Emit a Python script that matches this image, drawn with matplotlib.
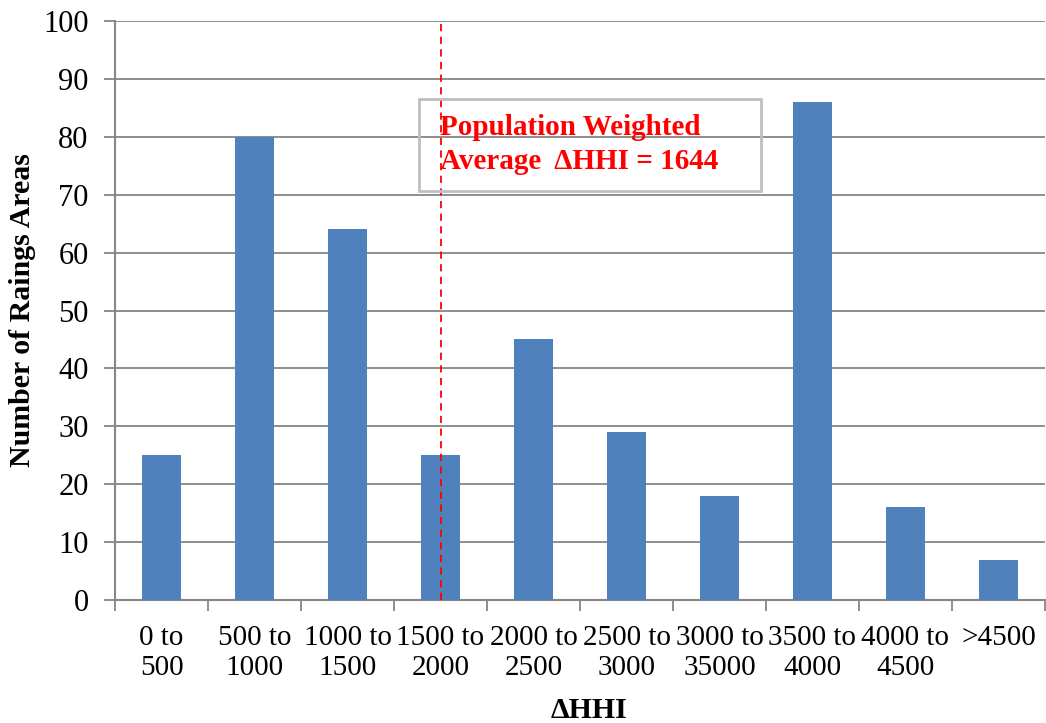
import matplotlib
matplotlib.use('Agg')
from matplotlib import pyplot as plt
import numpy as np

categories = ['0 to\n500', '500 to\n1000', '1000 to\n1500', '1500 to\n2000',
              '2000 to\n2500', '2500 to\n3000', '3000 to\n35000', '3500 to\n4000',
              '4000 to\n4500', '>4500']
counts = [25, 80, 64, 25, 45, 29, 18, 86, 16, 7]
avg_bin = 3  # the average line sits in the 1500 to 2000 bin
note = 'Population Weighted\nAverage  \u0394HHI = 1644'

plt.rcParams['font.family'] = ['Liberation Serif', 'DejaVu Serif']
plt.rcParams['font.size'] = 21.5

fig = plt.figure(figsize=(10.46, 7.23), dpi=100)
ax = fig.add_axes([0.110, 0.170, 0.889, 0.801])

x = np.arange(len(categories))
ax.bar(x, counts, 0.42, color='#4F81BD', zorder=3)

ax.set_xlim(-0.5, len(categories) - 0.5)
ax.set_ylim(0, 100)
ax.set_yticks(np.arange(0, 101, 10))
ax.yaxis.grid(True, color='#868686', linewidth=1.3, zorder=0)

ax.set_xticks(x)
ax.set_xticklabels(categories, fontsize=21, linespacing=1.2)
ax.set_xticks(np.arange(-0.5, len(categories)), minor=True)
ax.tick_params(axis='x', which='major', length=0, pad=18)
ax.tick_params(axis='x', which='minor', length=8, width=1.3, color='#868686', direction='out')
ax.tick_params(axis='y', length=8, width=1.3, color='#868686', pad=11, labelsize=22)

for s in ['top', 'right']:
    ax.spines[s].set_visible(False)
for s in ['left', 'bottom']:
    ax.spines[s].set_color('#868686')
    ax.spines[s].set_linewidth(1.5)

ax.axvline(avg_bin, color='red', linestyle=(0, (4, 3)), linewidth=1.3, zorder=4)

box = plt.Rectangle((2.77, 70.6), 3.68, 15.9, facecolor='none', edgecolor='#BFBFBF',
                    linewidth=2, zorder=5)
ax.add_patch(box)
ax.text(2.99, 84.0, note, color='red', fontweight='bold', fontsize=21,
        va='top', ha='left', linespacing=1.35, zorder=6)

ax.set_ylabel('Number of Raings Areas', fontweight='bold')
ax.yaxis.set_label_coords(-0.085, 0.5)
ax.set_xlabel('\u0394HHI', fontweight='bold')
ax.xaxis.set_label_coords(0.51, -0.168)

plt.savefig('out.png', dpi=100)
